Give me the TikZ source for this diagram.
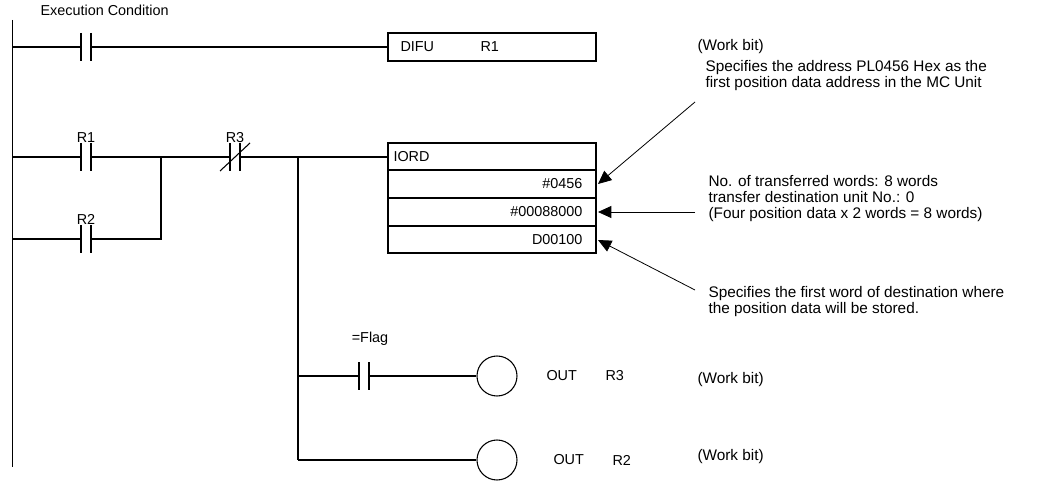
\documentclass[tikz,border=0pt]{standalone}
\usepackage{fontspec}
\setmainfont{Liberation Sans}
\usetikzlibrary{arrows.meta}
\begin{document}
\begin{tikzpicture}[x=0.75pt, y=-0.75pt, line width=0.8pt,
  lbl/.style = {inner sep=0pt, font=\fontsize{10.8}{12}\selectfont},
  note/.style = {inner sep=0pt, anchor=west, align=left, font=\fontsize{11.5}{12}\selectfont},
  coil/.style = {circle, draw, minimum size=30pt, inner sep=0pt},
  arr/.style = {-{Triangle[length=10pt, width=9pt]}, line width=0.6pt}]

\useasboundingbox (0,0) rectangle (1037,481);

% Rail
\draw (12.5,20) coordinate (top) -- (12.5,467) coordinate (bot);
\node[lbl, anchor=west] at (40,10) {Execution Condition};

% Contacts
\newcommand\noc[3]{% name, x, y
  \coordinate (#1) at (#2,#3);
  \draw (#2-5,#3-14) -- (#2-5,#3+14) (#2+5,#3-14) -- (#2+5,#3+14);
  \coordinate (#1w) at (#2-5,#3); \coordinate (#1e) at (#2+5,#3);
}

% Rung 1
\noc{ex}{86}{47}
\draw (12.5,47) -- (exw) (exe) -- (388,47);
\draw (388,33) rectangle (596,61);
\node[lbl, anchor=west] at (400,47) {DIFU};
\node[lbl, anchor=west] at (480,47) {R1};
\node[note] at (697,47) {(Work bit)};

% Rung 2
\noc{ra}{86}{157}
\node[lbl] at (86,138) {R1};
\noc{rb}{86}{239}
\node[lbl] at (86,219) {R2};
\noc{rc}{235}{157}
\draw (220,171) -- (250,143);
\node[lbl] at (235,138) {R3};
\draw (12.5,157) -- (raw) (rae) -- (rcw) (rce) -- (388,157);
\draw (12.5,239) -- (rbw) (rbe) -- (161,239) -- (161,157);

% IORD box
\draw (388,143) rectangle (596,253);
\foreach \y in {170,198,226} \draw (388,\y) -- (596,\y);
\node[lbl, anchor=west] at (393,157) {IORD};
\node[lbl, anchor=east] (s) at (583,184) {\#0456};
\node[lbl, anchor=east] (c) at (583,212) {\#00088000};
\node[lbl, anchor=east] (d) at (583,240) {D00100};

% Notes
\node[note] (n1) at (705,76) {Specifies the address PL0456 Hex as the\\first position data address in the MC Unit};
\node[note] (n2) at (708,199) {No. of transferred words: 8 words\\transfer destination unit No.: 0\\(Four position data x 2 words = 8 words)};
\node[note] (n3) at (708,302) {Specifies the first word of destination where\\the position data will be stored.};
\draw[arr] (695,102) -- (598,184);
\draw[arr] (695,212) -- (598,212);
\draw[arr] (695,290) -- (598,240);

% Outputs
\draw (298,157) -- (298,460);
\noc{fl}{364}{376}
\node[lbl] at (370,339) {=Flag};
\node[coil] (o1) at (497,376) {};
\node[coil] (o2) at (497,460) {};
\draw (298,376) -- (flw) (fle) -- (o1);
\draw (298,460) -- (o2);
\node[lbl, anchor=west] at (546,376) {OUT};
\node[lbl, anchor=west] at (605,376) {R3};
\node[lbl, anchor=west] at (553,460) {OUT};
\node[lbl, anchor=west] at (612,460) {R2};
\node[note] at (697,380) {(Work bit)};
\node[note] at (697,457) {(Work bit)};
\end{tikzpicture}
\end{document}
